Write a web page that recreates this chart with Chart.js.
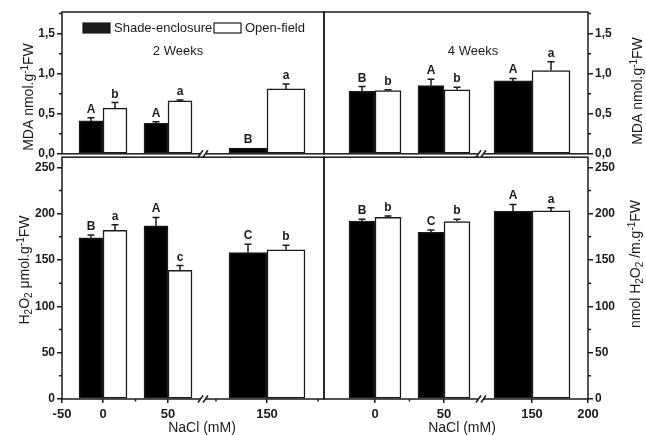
<!DOCTYPE html>
<html>
<head>
<meta charset="utf-8">
<title>MDA and H2O2 under NaCl</title>
<script src="https://cdn.jsdelivr.net/npm/chart.js@4.4.1/dist/chart.umd.min.js"></script>
<style>
  html, body { margin: 0; padding: 0; background: #fff; }
  #fig { position: relative; width: 646px; height: 435px; overflow: hidden; }
  #fig canvas { position: absolute; }
</style>
</head>
<body>
<div id="fig">
  <canvas id="tl" width="330" height="163" style="left:0;top:0"></canvas>
  <canvas id="tr" width="328" height="163" style="left:318px;top:0"></canvas>
  <canvas id="bl" width="330" height="287" style="left:0;top:148px"></canvas>
  <canvas id="br" width="328" height="287" style="left:318px;top:148px"></canvas>
</div>
<script>
// NaCl doses and the two growing conditions
const NACL = [0, 50, 150];
const SERIES = ['Shade-enclosure', 'Open-field'];

// x tick labels (broken axis)
const LEFT_TICKS = [-50, 0, 50, 150];
const RIGHT_TICKS = [0, 50, 150, 200];
const MDA_TICKS = [0, 0.5, 1.0, 1.5];
const H2O2_TICKS = [0, 50, 100, 150, 200, 250];

// MDA, 2 weeks
const MDA_2W_SHADE = [0.41, 0.38, 0.07];
const MDA_2W_SHADE_SE = [0.04, 0.02, 0];
const MDA_2W_SHADE_SIG = ['A', 'A', 'B'];
const MDA_2W_OPEN = [0.57, 0.66, 0.81];
const MDA_2W_OPEN_SE = [0.07, 0.01, 0.06];
const MDA_2W_OPEN_SIG = ['b', 'a', 'a'];

// MDA, 4 weeks
const MDA_4W_SHADE = [0.78, 0.85, 0.91];
const MDA_4W_SHADE_SE = [0.06, 0.08, 0.03];
const MDA_4W_SHADE_SIG = ['B', 'A', 'A'];
const MDA_4W_OPEN = [0.79, 0.80, 1.04];
const MDA_4W_OPEN_SE = [0.01, 0.03, 0.11];
const MDA_4W_OPEN_SIG = ['b', 'b', 'a'];

// H2O2, 2 weeks
const H2O2_2W_SHADE = [174, 187, 158];
const H2O2_2W_SHADE_SE = [3, 9, 9];
const H2O2_2W_SHADE_SIG = ['B', 'A', 'C'];
const H2O2_2W_OPEN = [182, 139, 161];
const H2O2_2W_OPEN_SE = [6, 5, 5];
const H2O2_2W_OPEN_SIG = ['a', 'c', 'b'];

// H2O2, 4 weeks
const H2O2_4W_SHADE = [192, 180, 202.5];
const H2O2_4W_SHADE_SE = [2, 2.5, 7.5];
const H2O2_4W_SHADE_SIG = ['B', 'C', 'A'];
const H2O2_4W_OPEN = [196, 191.5, 203];
const H2O2_4W_OPEN_SE = [1.5, 2.5, 3.5];
const H2O2_4W_OPEN_SIG = ['b', 'b', 'a'];

const INK = '#1b1b1b';
const FONT = "'Liberation Sans', Arial, sans-serif";

// broken axis layout: [NaCl, axis unit] anchors, axis unit = px inside the plot
const LEFT_LAYOUT = {
  width: 262, anchors: [[-50, 0], [0, 41], [50, 106], [125, 154], [150, 205], [175, 256]],
  brk: 141, breakAt: 100, narrow: 24, wide: 38, minor: [25, 125, 175]
};
const RIGHT_LAYOUT = {
  width: 264, anchors: [[0, 51], [50, 120], [150, 208], [200, 264]],
  brk: 157, breakAt: 100, narrow: 26, wide: 38, minor: [25]
};

Chart.defaults.font.family = FONT;
Chart.defaults.color = INK;

function xPos(lay, v) {
  const a = lay.anchors;
  let i = 0;
  while (i < a.length - 2 && v > a[i + 1][0]) i++;
  const [v0, p0] = a[i], [v1, p1] = a[i + 1];
  return p0 + (v - v0) * (p1 - p0) / (v1 - v0);
}

function drawRich(ctx, segs, cx, cy, size, rot) {
  const parts = segs.map(s => Array.isArray(s) ? { t: s[0], k: s[1] } : { t: s, k: '' });
  const fontFor = k => `${k ? Math.round(size * 0.68) : size}px ${FONT}`;
  let w = 0;
  parts.forEach(p => { ctx.font = fontFor(p.k); p.w = ctx.measureText(p.t).width; w += p.w; });
  ctx.save();
  ctx.translate(cx, cy);
  ctx.rotate(rot);
  ctx.textAlign = 'left';
  ctx.textBaseline = 'alphabetic';
  let x = -w / 2;
  const base = size * 0.36;
  parts.forEach(p => {
    ctx.font = fontFor(p.k);
    const dy = p.k === 'sup' ? -size * 0.38 : p.k === 'sub' ? size * 0.22 : 0;
    ctx.fillText(p.t, x, base + dy);
    x += p.w;
  });
  ctx.restore();
}

function decor(p) {
  return {
    id: 'decor',
    afterDatasetsDraw(chart) {
      const { ctx, chartArea: a, scales: { x, y } } = chart;
      const lay = p.lay;
      ctx.save();
      ctx.strokeStyle = INK;
      ctx.fillStyle = INK;
      ctx.lineWidth = 1.5;

      // error bars + significance letters
      chart.data.datasets.forEach((ds, di) => {
        chart.getDatasetMeta(di).data.forEach((bar, i) => {
          const d = ds.data[i];
          const top = y.getPixelForValue(d.y + d.se);
          if (d.se > 0) {
            ctx.beginPath();
            ctx.moveTo(bar.x, bar.y);
            ctx.lineTo(bar.x, top);
            ctx.moveTo(bar.x - 3.5, top);
            ctx.lineTo(bar.x + 3.5, top);
            ctx.stroke();
          }
          ctx.font = `bold 12px ${FONT}`;
          ctx.textAlign = 'center';
          ctx.textBaseline = 'alphabetic';
          ctx.fillText(d.tag, bar.x, top - 5);
        });
      });

      // panel frame
      ctx.strokeRect(a.left, a.top, a.width, a.height);

      // minor ticks
      const t = p.yTicks, step = t[1] - t[0];
      const right = p.side === 'right';
      ctx.beginPath();
      for (let v = t[0] + step / 2; v <= y.max; v += step) {
        const py = y.getPixelForValue(v);
        const x0 = right ? a.right : a.left;
        ctx.moveTo(x0, py);
        ctx.lineTo(right ? x0 + 3 : x0 - 3, py);
      }
      if (p.showX) {
        lay.minor.forEach(v => {
          const px = x.getPixelForValue(xPos(lay, v));
          ctx.moveTo(px, a.bottom);
          ctx.lineTo(px, a.bottom + 2.5);
        });
      }
      ctx.stroke();

      // axis break
      const bx = x.getPixelForValue(lay.brk), by = a.bottom;
      ctx.fillStyle = '#fff';
      ctx.fillRect(bx - 3, by - 1.5, 6, 3);
      ctx.beginPath();
      [-2.5, 2.5].forEach(dx => {
        ctx.moveTo(bx + dx - 2.5, by + 3.5);
        ctx.lineTo(bx + dx + 2.5, by - 3.5);
      });
      ctx.stroke();
      ctx.fillStyle = INK;

      // legend
      if (p.legend) {
        ctx.font = `13px ${FONT}`;
        ctx.textAlign = 'left';
        ctx.textBaseline = 'middle';
        ctx.lineWidth = 1.2;
        ctx.fillRect(83, 23, 27, 10);
        ctx.strokeRect(83, 23, 27, 10);
        ctx.fillText(SERIES[0], 114, 28);
        ctx.fillStyle = '#fff';
        ctx.fillRect(214, 23, 27, 10);
        ctx.strokeRect(214, 23, 27, 10);
        ctx.fillStyle = INK;
        ctx.fillText(SERIES[1], 245, 28);
      }

      // labels and axis titles
      p.texts.forEach(tx => drawRich(ctx, tx.segs, tx.x, tx.y, tx.size, tx.rot || 0));
      ctx.restore();
    }
  };
}

function barSets(p) {
  const sets = [];
  [false, true].forEach(wide => {
    [[p.shade, -1, '#000'], [p.open, 1, '#fff']].forEach(([s, side, fill], k) => {
      const w = wide ? p.lay.wide : p.lay.narrow;
      const data = [];
      NACL.forEach((v, i) => {
        if ((v > p.lay.breakAt) !== wide) return;
        data.push({ x: xPos(p.lay, v) + side * w / 2, y: s.mean[i], se: s.se[i], tag: s.tag[i] });
      });
      sets.push({
        label: SERIES[k], data,
        backgroundColor: fill, borderColor: INK, borderWidth: 1.5, borderSkipped: false,
        barThickness: w, grouped: false
      });
    });
  });
  return sets;
}

function makePanel(id, p) {
  const lay = p.lay;
  return new Chart(document.getElementById(id), {
    type: 'bar',
    data: { datasets: barSets(p) },
    options: {
      responsive: false,
      animation: false,
      devicePixelRatio: 1,
      events: [],
      layout: { padding: p.pad },
      plugins: { legend: { display: false }, tooltip: { enabled: false } },
      scales: {
        x: {
          type: 'linear', min: 0, max: lay.width, bounds: 'data', offset: false,
          display: p.showX,
          afterBuildTicks: s => { s.ticks = p.xTicks.map(v => ({ value: xPos(lay, v) })); },
          afterFit: s => { s.height = p.showX ? 36 : 0; },
          border: { display: false },
          grid: { offset: false, drawOnChartArea: false, tickLength: 4, color: INK, lineWidth: 1.5 },
          ticks: {
            autoSkip: false, maxRotation: 0, minRotation: 0, padding: 4,
            font: { size: 13, weight: 'bold' },
            callback: (val, i) => String(p.xTicks[i])
          }
        },
        y: {
          position: p.side, min: 0, max: p.yMax, bounds: 'data',
          afterBuildTicks: s => { s.ticks = p.yTicks.map(v => ({ value: v })); },
          afterFit: s => { s.width = p.yWidth; },
          border: { display: false },
          grid: { drawOnChartArea: false, tickLength: 5, color: INK, lineWidth: 1.5 },
          ticks: { padding: 2, font: { size: 12, weight: 'bold' }, callback: p.fmt }
        }
      }
    },
    plugins: [decor(p)]
  });
}

const fmtMda = v => v.toFixed(1).replace('.', ',');
const fmtH2o2 = v => String(v);
const MDA_TITLE = ['MDA nmol.g', ['-1', 'sup'], 'FW'];

makePanel('tl', {
  lay: LEFT_LAYOUT, xTicks: LEFT_TICKS, showX: false, side: 'left', yWidth: 62,
  pad: { left: 0, top: 12, right: 6, bottom: 8 },
  yMax: 1.77, yTicks: MDA_TICKS, fmt: fmtMda, legend: true,
  shade: { mean: MDA_2W_SHADE, se: MDA_2W_SHADE_SE, tag: MDA_2W_SHADE_SIG },
  open: { mean: MDA_2W_OPEN, se: MDA_2W_OPEN_SE, tag: MDA_2W_OPEN_SIG },
  texts: [
    { segs: ['2 Weeks'], x: 178, y: 50, size: 13 },
    { segs: MDA_TITLE, x: 28, y: 97, size: 14, rot: -Math.PI / 2 }
  ]
});

makePanel('tr', {
  lay: RIGHT_LAYOUT, xTicks: RIGHT_TICKS, showX: false, side: 'right', yWidth: 58,
  pad: { left: 6, top: 12, right: 0, bottom: 8 },
  yMax: 1.77, yTicks: MDA_TICKS, fmt: fmtMda, legend: false,
  shade: { mean: MDA_4W_SHADE, se: MDA_4W_SHADE_SE, tag: MDA_4W_SHADE_SIG },
  open: { mean: MDA_4W_OPEN, se: MDA_4W_OPEN_SE, tag: MDA_4W_OPEN_SIG },
  texts: [
    { segs: ['4 Weeks'], x: 155, y: 50, size: 13 },
    { segs: MDA_TITLE, x: 319, y: 91, size: 14, rot: -Math.PI / 2 }
  ]
});

makePanel('bl', {
  lay: LEFT_LAYOUT, xTicks: LEFT_TICKS, showX: true, side: 'left', yWidth: 62,
  pad: { left: 0, top: 8, right: 6, bottom: 0 },
  yMax: 261, yTicks: H2O2_TICKS, fmt: fmtH2o2, legend: false,
  shade: { mean: H2O2_2W_SHADE, se: H2O2_2W_SHADE_SE, tag: H2O2_2W_SHADE_SIG },
  open: { mean: H2O2_2W_OPEN, se: H2O2_2W_OPEN_SE, tag: H2O2_2W_OPEN_SIG },
  texts: [
    { segs: ['H', ['2', 'sub'], 'O', ['2', 'sub'], ' \u03bcmol.g', ['-1', 'sup'], 'FW'], x: 24, y: 122, size: 14, rot: -Math.PI / 2 },
    { segs: ['NaCl (mM)'], x: 202, y: 279, size: 14 }
  ]
});

makePanel('br', {
  lay: RIGHT_LAYOUT, xTicks: RIGHT_TICKS, showX: true, side: 'right', yWidth: 58,
  pad: { left: 6, top: 8, right: 0, bottom: 0 },
  yMax: 261, yTicks: H2O2_TICKS, fmt: fmtH2o2, legend: false,
  shade: { mean: H2O2_4W_SHADE, se: H2O2_4W_SHADE_SE, tag: H2O2_4W_SHADE_SIG },
  open: { mean: H2O2_4W_OPEN, se: H2O2_4W_OPEN_SE, tag: H2O2_4W_OPEN_SIG },
  texts: [
    { segs: ['nmol H', ['2', 'sub'], 'O', ['2', 'sub'], ' /m.g', ['-1', 'sup'], 'FW'], x: 317, y: 116, size: 14, rot: -Math.PI / 2 },
    { segs: ['NaCl (mM)'], x: 144, y: 279, size: 14 }
  ]
});
</script>
</body>
</html>
